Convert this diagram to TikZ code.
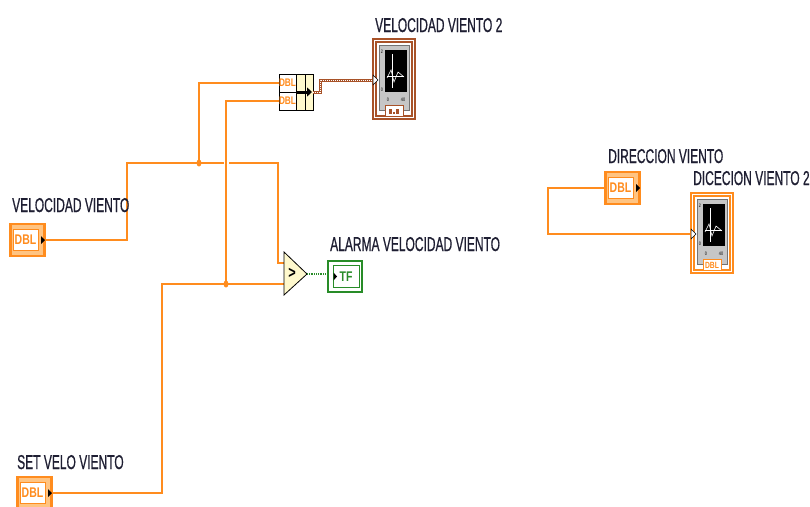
\documentclass[tikz,border=0pt]{standalone}
\usepackage{fontspec}
\usetikzlibrary{arrows.meta}
\newfontfamily\lvfont[FakeStretch=0.6, FakeBold=0.6]{Liberation Sans}
\newfontfamily\lvtag[FakeStretch=0.75]{Liberation Sans}
\definecolor{lvor}{RGB}{255,140,30}
\definecolor{lvlight}{RGB}{255,196,130}
\definecolor{lvbrown}{RGB}{168,82,40}
\definecolor{lvgreen}{RGB}{40,140,40}
\definecolor{lvtext}{RGB}{30,30,50}
\definecolor{cmpfill}{RGB}{255,249,205}
\tikzset{
	wire/.style={draw=lvor, line width=1.6pt},
	arrwire/.style={draw=lvbrown, line width=3pt},
	boolwire/.style={draw=lvgreen, line width=1.5pt, dash pattern=on 1pt off 0.8pt},
	lbl/.style={anchor=base west, inner sep=0pt, text=lvtext, font=\lvfont\fontsize{20}{20}\selectfont},
	dblctl/.style={rectangle, draw=lvor, fill=lvlight, line width=2.2pt, minimum width=34, minimum height=32},
	dbltag/.style={rectangle, draw=lvor, fill=white, line width=1pt, minimum width=25, minimum height=21, inner sep=0pt, text=lvor, font=\lvtag\bfseries\fontsize{14}{14}\selectfont},
	bacell/.style={rectangle, draw=black, fill=white, line width=0.8pt, minimum width=17, minimum height=18, inner sep=0pt, text=lvor, font=\lvtag\bfseries\fontsize{11}{11}\selectfont},
	bacol/.style={rectangle, draw=black, fill=cmpfill, line width=0.8pt, minimum height=36, inner sep=0pt},
	tfout/.style={rectangle, draw=lvgreen, fill=white, line width=1.2pt, minimum width=34, minimum height=31},
	tftag/.style={rectangle, draw=lvgreen, fill=white, line width=1pt, minimum width=26, minimum height=22, inner sep=0pt, text=lvgreen, font=\lvtag\bfseries\fontsize{14}{14}\selectfont},
	charttick/.style={inner sep=0pt, font=\lvtag\fontsize{5}{5}\selectfont},
	chartfoot/.style={rectangle, fill=white, line width=1pt, minimum width=18, minimum height=11, inner sep=0pt, font=\lvtag\bfseries\fontsize{9}{9}\selectfont},
	pics/chart/.style 2 args={code={
		\draw[#1, line width=1.2pt, fill=white] (0,0) rectangle (42,80);
		\draw[#1, line width=1.2pt] (3,3) rectangle (39,77);
		\draw[black!55, fill=gray!45] (6,6) rectangle (36,71);
		\fill[black] (12,11) rectangle (34,53);
		\draw[white, line width=0.5pt] (19,15) -- (19,49) (14,37) -- (31,37);
		\draw[white, line width=0.6pt] (14,39) -- (18,31) -- (21,43) -- (25,33) -- (31,38);
		\node[charttick] (-ymax) at (9,13) {2};
		\node[charttick] (-ymin) at (9,51) {0};
		\node[charttick] (-xmin) at (15,61) {0};
		\node[charttick] (-xmax) at (30,61) {40};
		\draw[black, fill=white, line width=0.5pt] (0,36) -- (5,41) -- (0,46) -- cycle;
		\coordinate (-in) at (0,41);
		\node[chartfoot, draw=#1, text=#1] (-foot) at (21,72) {#2};
	}}
}
\begin{document}
\begin{tikzpicture}[x=1pt, y=-1pt]
	\useasboundingbox[fill=white] (0,0) rectangle (810,506);
	% wire corners and junctions
	\coordinate (j1) at (199,163);
	\coordinate (j2) at (226,284);
	\coordinate (cmp-a) at (284,252);
	\coordinate (cmp-b) at (284,295);
	\coordinate (cmp-t) at (307,274);
	\coordinate (cmpx) at (284,263);
	\coordinate (cmpy) at (284,284);
	\coordinate (baout) at (313,92);
	% controls
	\node[dblctl] (vv) at (27.5,240) {};
	\node[dbltag] (vvtag) at (25.5,240) {DBL};
	\fill (41,236) -- (45,240) -- (41,244) -- cycle;
	\node[dblctl] (sv) at (34.5,493) {};
	\node[dbltag] (svtag) at (32.5,493) {DBL};
	\fill (48,489) -- (52,493) -- (48,497) -- cycle;
	\node[dblctl] (dir) at (622.5,188) {};
	\node[dbltag] (dirtag) at (620.5,188) {DBL};
	\fill (636,184) -- (640,188) -- (636,192) -- cycle;
	% build array
	\node[bacell] (ba1) at (287.5,83) {DBL};
	\node[bacell] (ba2) at (287.5,101) {DBL};
	\node[bacol, minimum width=9] (bacol1) at (300.5,92) {};
	\node[bacol, minimum width=8] (bacol2) at (309,92) {};
	% wires
	\draw[wire] (vv.east) -| (127,163) -| (278,263) -- (cmpx);
	\draw[wire] (j1) |- (ba1.west);
	\draw[wire] (sv.east) -| (162,284) -- (cmpy);
	\draw[white, line width=5pt] (226,159) -- (226,167);
	\draw[wire] (j2) |- (ba2.west);
	\fill[lvor] (j1) ellipse (2.5pt and 3.5pt);
	\fill[lvor] (j2) ellipse (2.5pt and 3.5pt);
	\draw[line width=3pt, -{Triangle[length=5pt,width=9pt]}] (296,92) -- (312,92);
	\draw[arrwire] (baout) -- (320,92) |- (373,80);
	\draw[white, line width=0.8pt, dash pattern=on 1pt off 1pt] (313,92) -- (320,92) |- (373,80);
	\draw[wire] (dir.west) -| (548,234) -- (691,234);
	% comparator and indicator
	\draw[fill=cmpfill, line width=0.8pt] (cmp-a) -- (cmp-t) -- (cmp-b) -- cycle;
	\node[font=\lvtag\bfseries\fontsize{17}{17}\selectfont] (cmpsym) at (292,273) {>};
	\node[tfout] (tf) at (345,276.5) {};
	\node[tftag] (tftag) at (346,276.5) {TF};
	\fill (333.5,272.5) -- (337,276.5) -- (333.5,280.5) -- cycle;
	\draw[boolwire] (cmp-t) -- (cmp-t -| tf.west);
	% charts
	\pic (c1) at (373,39) {chart={lvbrown}{\rule{3pt}{5pt}\,\rule{1.5pt}{1.5pt}\,\rule{3pt}{5pt}}};
	\pic (c2) at (691,193) {chart={lvor}{DBL}};
	% labels
	\node[lbl] (vvlbl) at (12,212) {VELOCIDAD VIENTO};
	\node[lbl] (svlbl) at (17,469) {SET VELO VIENTO};
	\node[lbl] (c1lbl) at (375,32) {VELOCIDAD VIENTO 2};
	\node[lbl] (tflbl) at (330,251) {ALARMA VELOCIDAD VIENTO};
	\node[lbl] (dirlbl) at (608,163) {DIRECCION VIENTO};
	\node[lbl] (c2lbl) at (693,185) {DICECION VIENTO 2};
\end{tikzpicture}
\end{document}
